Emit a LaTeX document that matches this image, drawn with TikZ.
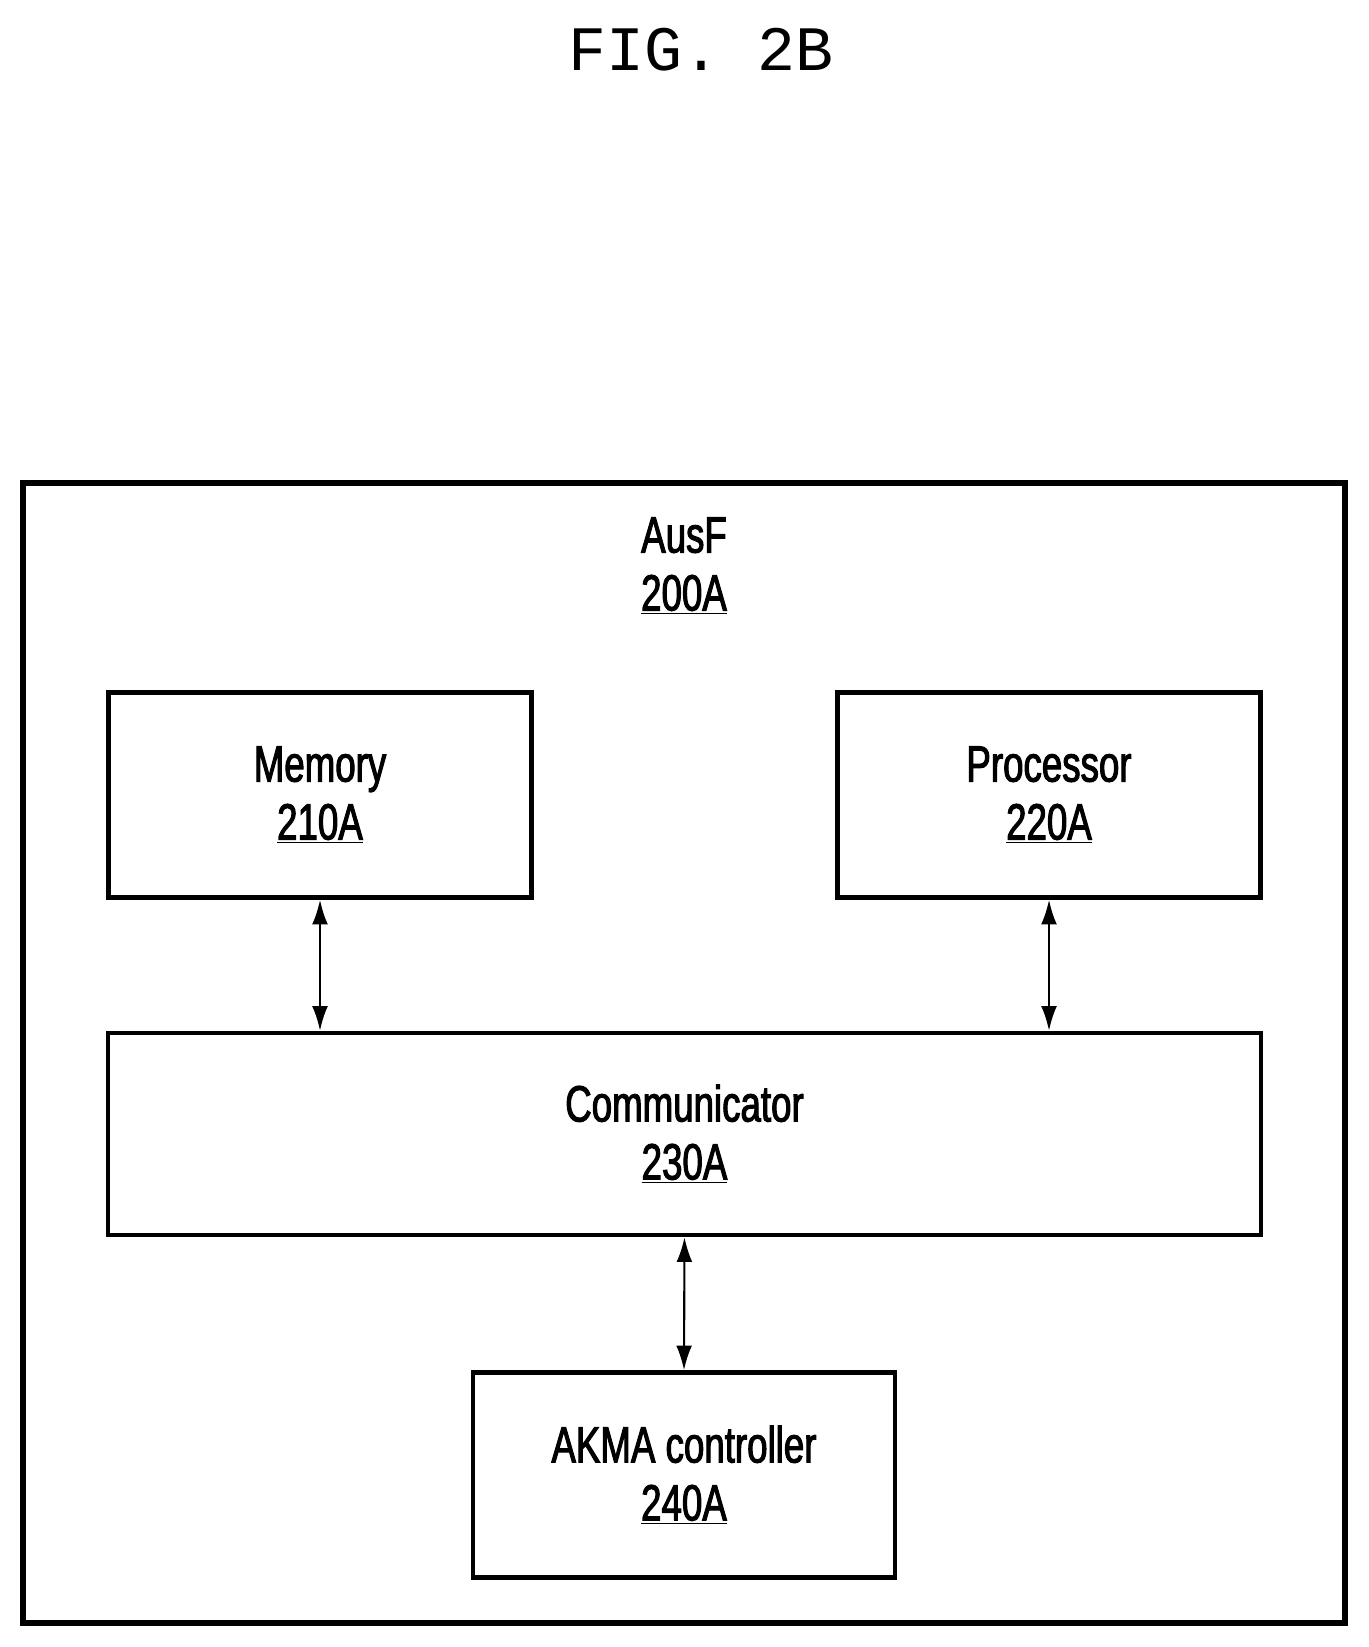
\documentclass[tikz,border=0pt]{standalone}
\usepackage{fontspec}
\setmainfont{Liberation Sans}[FakeStretch=0.72,FakeBold=2]
\newfontfamily\figfont{Liberation Mono}
\usetikzlibrary{arrows.meta}
\tikzset{
  block/.style={draw, line width=2.6pt, inner sep=0pt, align=center, font=\fontsize{29}{33}\selectfont},
  link/.style={line width=1.2pt, {Latex[length=14pt,width=9pt]}-{Latex[length=14pt,width=9pt]}}
}
\begin{document}
\begin{tikzpicture}[x=0.02cm,y=-0.02cm]
        \useasboundingbox (0,0) rectangle (1369,1647);
        \node[font=\figfont\fontsize{36}{42}\selectfont] (title) at (701,50) {FIG. 2B};

        \draw[line width=3.2pt] (23,483) rectangle (1345,1623);
        \node[font=\fontsize{29}{33}\selectfont, align=center] (ausf) at (684,566) {AusF\\\underline{200A}};

        \node[block, minimum width=423*0.02cm, minimum height=205*0.02cm] (mem) at (320,795) {Memory\\\underline{210A}};
        \node[block, minimum width=423*0.02cm, minimum height=205*0.02cm] (proc) at (1049,795) {Processor\\\underline{220A}};
        \node[block, minimum width=1153*0.02cm, minimum height=202*0.02cm] (comm) at (684.5,1134) {Communicator\\\underline{230A}};
        \node[block, minimum width=422*0.02cm, minimum height=205*0.02cm] (akma) at (684,1475) {AKMA controller\\\underline{240A}};

        \draw[link] (mem.south) -- (mem.south |- comm.north);
        \draw[link] (proc.south) -- (proc.south |- comm.north);
        \draw[link] (comm.south) -- (akma.north);
\end{tikzpicture}
\end{document}
